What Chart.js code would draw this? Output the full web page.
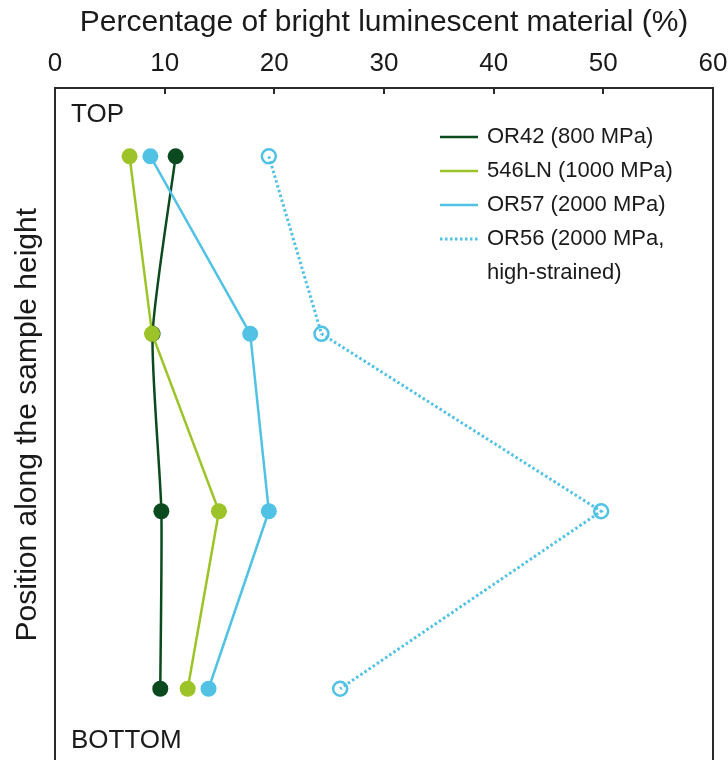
<!DOCTYPE html>
<html>
<head>
<meta charset="utf-8">
<script src="https://cdn.jsdelivr.net/npm/chart.js@4"></script>
<style>
  html, body { margin: 0; padding: 0; background: #fff; overflow: hidden; }
  #wrap { width: 728px; height: 760px; overflow: hidden; }
  #lumChart { display: block; }
</style>
</head>
<body>
<div id="wrap"><canvas id="lumChart" width="728" height="771"></canvas></div>
<script>
// positions along the sample height: 1 = top ... 4 = bottom
const positions = [1, 2, 3, 4];
const or42 = [11.0, 8.9, 9.7, 9.6];
const ln546 = [6.8, 8.85, 14.95, 12.1];
const or57 = [8.7, 17.8, 19.5, 14.0];
const or56 = [19.5, 24.3, 49.8, 26.0];
const xTicks = [0, 10, 20, 30, 40, 50, 60];
const legendLabels = ['OR42 (800 MPa)', '546LN (1000 MPa)', 'OR57 (2000 MPa)', ['OR56 (2000 MPa,', 'high-strained)']];

const FONT = '"Liberation Sans", Arial, sans-serif';
const TEXT = '#1a1a1a';
const AXIS = '#2a2a2a';

const toPoints = vals => vals.map((v, i) => ({ x: v, y: positions[i] }));

// legend in the upper right of the plot + TOP / BOTTOM notes
const insidePlugin = {
    id: 'insideNotes',
    afterDatasetsDraw(chart) {
        const { ctx, chartArea } = chart;
        ctx.save();
        ctx.fillStyle = TEXT;
        ctx.font = `26px ${FONT}`;
        ctx.textBaseline = 'alphabetic';
        ctx.fillText('TOP', chartArea.left + 16, 122);
        ctx.fillText('BOTTOM', chartArea.left + 16, 748);

        ctx.font = `22px ${FONT}`;
        ctx.textBaseline = 'middle';
        let y = 137;
        chart.data.datasets.forEach((ds, i) => {
            const x0 = chartArea.right - 273;
            ctx.beginPath();
            ctx.strokeStyle = ds.borderColor;
            ctx.lineWidth = ds.borderWidth;
            ctx.setLineDash(ds.borderDash || []);
            ctx.moveTo(x0, y);
            ctx.lineTo(x0 + 38, y);
            ctx.stroke();
            ctx.setLineDash([]);
            const lines = [].concat(legendLabels[i]);
            lines.forEach(t => {
                ctx.fillText(t, x0 + 47, y);
                y += 34;
            });
        });
        ctx.restore();
    }
};

const noPad = s => { s.paddingLeft = 0; s.paddingRight = 0; s.paddingTop = 0; s.paddingBottom = 0; };

new Chart(document.getElementById('lumChart'), {
    type: 'scatter',
    data: {
        datasets: [
            {
                label: 'OR42', data: toPoints(or42), showLine: true, order: 3,
                borderColor: '#0b4a1e', backgroundColor: '#0b4a1e', borderWidth: 2.5,
                pointRadius: 8, pointBorderWidth: 0, tension: 0.2
            },
            {
                label: '546LN', data: toPoints(ln546), showLine: true, order: 2,
                borderColor: '#9cc428', backgroundColor: '#9cc428', borderWidth: 2.5,
                pointRadius: 8, pointBorderWidth: 0
            },
            {
                label: 'OR57', data: toPoints(or57), showLine: true, order: 1,
                borderColor: '#52c2e4', backgroundColor: '#52c2e4', borderWidth: 2.5,
                pointRadius: 8, pointBorderWidth: 0
            },
            {
                label: 'OR56', data: toPoints(or56), showLine: true, order: 4,
                borderColor: '#52c2e4', backgroundColor: 'rgba(0,0,0,0)', borderWidth: 3,
                borderDash: [2.5, 2.5], pointRadius: 7, pointBorderWidth: 2.5,
                pointBorderColor: '#52c2e4', pointBackgroundColor: 'rgba(0,0,0,0)'
            }
        ]
    },
    options: {
        responsive: false,
        animation: false,
        layout: { padding: 0 },
        plugins: { legend: { display: false }, tooltip: { enabled: false } },
        scales: {
            x: {
                position: 'top', min: 0, max: 60,
                afterBuildTicks: s => { s.ticks = xTicks.map(v => ({ value: v })); },
                afterFit: s => { s.height = 88; noPad(s); },
                ticks: { color: TEXT, font: { family: FONT, size: 26 }, padding: 15, maxRotation: 0 },
                grid: { drawOnChartArea: false, tickLength: -6, color: AXIS, lineWidth: 2 },
                border: { display: true, color: AXIS, width: 2 },
                title: {
                    display: true, text: 'Percentage of bright luminescent material (%)',
                    color: TEXT, font: { family: FONT, size: 30 }, padding: { top: 5, bottom: 0 }
                }
            },
            y: {
                position: 'left', reverse: true, min: 0.615, max: 4.41,
                afterFit: s => { s.width = 55; noPad(s); },
                ticks: { display: false },
                grid: { display: false },
                border: { display: true, color: AXIS, width: 2 },
                title: {
                    display: true, text: 'Position along the sample height',
                    color: TEXT, font: { family: FONT, size: 30 }, padding: { top: 10, bottom: 0 }
                }
            },
            yRight: {
                position: 'right', min: 0, max: 1,
                afterFit: s => { s.width = 15; noPad(s); },
                ticks: { display: false },
                grid: { display: false },
                border: { display: true, color: AXIS, width: 2 }
            }
        }
    },
    plugins: [insidePlugin]
});
</script>
</body>
</html>
